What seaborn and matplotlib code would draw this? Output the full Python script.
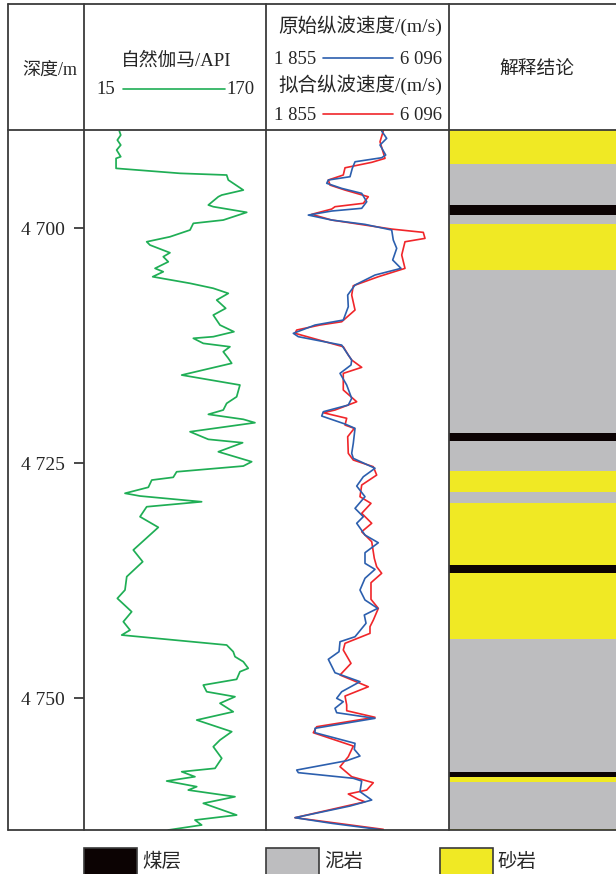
import matplotlib
matplotlib.use("Agg")
import matplotlib.pyplot as plt
from matplotlib.patches import Rectangle
import pandas as pd
import seaborn as sns

depth_top, depth_bottom = 4689.57, 4764.04
depth_ticks = [4700, 4725, 4750]
depth_tick_labels = ["4 700", "4 725", "4 750"]

gr_min, gr_max = 15, 170
vp_min, vp_max = 1855, 6096

gr_depth = [4689.68, 4690.11, 4690.64, 4691.17, 4691.70, 4692.41, 4692.59, 4693.65, 4694.18, 4694.36,
            4694.89, 4695.96, 4696.49, 4696.67, 4697.55, 4697.73, 4698.33, 4699.15, 4699.50, 4700.21,
            4700.93, 4701.46, 4701.81, 4702.63, 4703.05, 4703.59, 4704.29, 4704.65, 4705.18, 4705.88,
            4706.41, 4706.95, 4707.66, 4708.54, 4709.26, 4710.32, 4711.03, 4711.56, 4711.73, 4712.27,
            4712.63, 4713.16, 4713.86, 4714.39, 4715.64, 4716.70, 4717.95, 4718.65, 4719.36, 4719.82,
            4720.35, 4720.71, 4721.67, 4722.48, 4722.84, 4723.80, 4724.86, 4725.32, 4725.93, 4726.52,
            4726.81, 4727.58, 4728.22, 4728.51, 4729.12, 4729.65, 4730.71, 4731.84, 4734.25, 4735.50,
            4737.09, 4738.51, 4739.40, 4740.82, 4741.88, 4742.77, 4743.30, 4744.36, 4745.07, 4745.60,
            4746.14, 4746.84, 4747.20, 4748.01, 4748.62, 4749.33, 4749.86, 4750.56, 4751.46, 4752.34,
            4753.58, 4754.47, 4755.18, 4756.41, 4757.48, 4757.84, 4758.37, 4758.83, 4759.43, 4759.79,
            4760.50, 4761.20, 4762.45, 4762.98, 4763.51, 4764.04]
gr_api = [45.1, 46.3, 43.4, 46.3, 42.8, 46.3, 42.3, 42.3, 96.8, 136.5,
          137.9, 150.7, 132.3, 129.4, 120.9, 125.1, 153.6, 133.6, 108.1, 105.3,
          88.2, 68.4, 71.2, 88.2, 82.5, 86.8, 75.5, 82.5, 73.5, 105.3,
          125.1, 137.9, 128.0, 135.7, 125.1, 130.8, 142.7, 125.1, 108.1, 116.6,
          139.3, 133.6, 137.9, 140.8, 98.2, 147.8, 145.0, 136.5, 133.6, 120.9,
          150.7, 160.6, 105.3, 120.9, 150.1, 129.4, 157.8, 150.7, 93.9, 91.0,
          72.7, 69.8, 49.9, 62.7, 115.2, 68.4, 62.7, 78.3, 57.0, 65.0,
          51.4, 49.9, 43.4, 55.6, 48.5, 54.2, 47.1, 136.5, 142.1, 143.6,
          150.7, 154.9, 147.8, 145.0, 116.6, 119.5, 143.6, 130.8, 142.1, 111.0,
          140.8, 130.8, 125.1, 132.3, 126.6, 98.2, 109.5, 85.4, 111.0, 103.8,
          143.6, 116.6, 145.0, 109.5, 115.2, 86.8]

vp_orig_depth = [4689.68, 4690.46, 4691.17, 4692.23, 4692.52, 4692.95, 4693.65, 4694.54, 4694.89, 4695.24,
                 4695.78, 4696.31, 4697.20, 4697.90, 4698.19, 4698.62, 4699.15, 4699.61, 4700.21, 4701.28,
                 4702.16, 4703.40, 4704.29, 4705.00, 4706.06, 4707.13, 4708.37, 4709.79, 4710.32, 4711.20,
                 4711.56, 4712.45, 4713.51, 4714.04, 4714.57, 4715.46, 4716.70, 4718.12, 4718.83, 4719.54,
                 4720.00, 4720.85, 4721.31, 4722.90, 4723.97, 4724.50, 4725.56, 4726.46, 4727.45, 4728.58,
                 4729.82, 4730.71, 4731.41, 4732.66, 4733.48, 4734.54, 4735.67, 4736.31, 4737.26, 4738.51,
                 4739.57, 4740.46, 4741.17, 4742.05, 4743.48, 4744.01, 4745.07, 4745.88, 4747.31, 4748.26,
                 4749.33, 4750.03, 4750.39, 4751.09, 4751.56, 4752.16, 4753.22, 4753.69, 4754.82, 4755.46,
                 4756.17, 4756.67, 4757.66, 4757.94, 4758.54, 4758.83, 4759.96, 4760.85, 4761.49, 4762.73,
                 4763.33, 4764.04]
vp_orig = [4536, 4652, 4497, 4629, 4536, 3918, 3855, 3802, 3299, 3262,
           3609, 4073, 4189, 4073, 3378, 2835, 3378, 4149, 4768, 4805,
           4884, 4791, 4984, 4381, 3918, 3748, 3762, 3646, 2991, 2488,
           2604, 3609, 3762, 3841, 3825, 3570, 3725, 3841, 3762, 3183,
           3146, 3686, 3918, 3878, 3841, 3878, 4381, 4110, 3957, 4149,
           3918, 4110, 3957, 4149, 4458, 4149, 4149, 4381, 4149, 4033,
           4149, 4444, 4133, 4173, 3918, 3570, 3547, 3299, 3454, 4033,
           3609, 3493, 3646, 3454, 3493, 4381, 2991, 2991, 3918, 3901,
           4033, 3725, 2566, 2604, 3878, 4073, 4033, 4305, 3802, 2527,
           3378, 4573]

vp_fit_depth = [4689.68, 4690.82, 4692.59, 4693.01, 4693.59, 4694.36, 4694.89, 4695.43, 4695.96, 4696.67,
                4697.37, 4697.73, 4697.98, 4698.54, 4699.15, 4700.11, 4700.46, 4701.10, 4701.46, 4702.87,
                4704.29, 4705.18, 4706.14, 4707.13, 4708.72, 4709.97, 4710.32, 4710.85, 4711.20, 4712.63,
                4713.51, 4714.04, 4714.82, 4715.46, 4717.23, 4718.48, 4719.36, 4719.65, 4720.24, 4720.96,
                4721.31, 4722.20, 4723.97, 4724.68, 4725.39, 4726.28, 4727.34, 4728.58, 4729.29, 4730.35,
                4731.41, 4732.31, 4733.37, 4735.14, 4736.03, 4736.73, 4737.73, 4739.50, 4740.46, 4741.71,
                4742.41, 4743.12, 4744.18, 4744.89, 4746.31, 4747.55, 4748.80, 4749.79, 4750.74, 4751.35,
                4752.05, 4753.05, 4753.69, 4755.11, 4756.24, 4757.31, 4758.37, 4759.01, 4759.79, 4760.21,
                4760.78, 4761.04, 4762.73, 4763.97]
vp_fit = [4573, 4497, 4613, 4305, 3686, 3646, 3299, 3338, 3686, 4226,
          4110, 3454, 3378, 2914, 3378, 4768, 5500, 5540, 5076, 5000,
          5076, 4458, 3878, 3841, 3918, 3609, 3106, 2566, 2527, 3646,
          3762, 3841, 4073, 3646, 3646, 3957, 3454, 3183, 3725, 3686,
          3901, 3748, 3762, 3878, 4342, 4420, 4073, 4033, 4288, 4073,
          4305, 4073, 4305, 4365, 4420, 4536, 4288, 4288, 4458, 4342,
          4265, 4265, 3686, 3646, 3825, 3570, 4226, 3686, 3725, 3725,
          4381, 3030, 2951, 3878, 3762, 3570, 3841, 4342, 4189, 3762,
          3994, 4149, 2527, 4573]

litho_top = [4689.57, 4693.14, 4697.55, 4698.56, 4699.52, 4704.47, 4721.81, 4722.63, 4725.81,
             4728.06, 4729.26, 4735.85, 4736.70, 4743.72, 4757.87, 4758.40, 4758.94, 4763.94]
litho_base = [4693.14, 4697.55, 4698.56, 4699.52, 4704.47, 4721.81, 4722.63, 4725.81, 4728.06,
              4729.26, 4735.85, 4736.70, 4743.72, 4757.87, 4758.40, 4758.94, 4763.94, 4764.04]
litho_kind = ["砂岩", "泥岩", "煤层", "泥岩", "砂岩", "泥岩", "煤层", "泥岩", "砂岩",
              "泥岩", "砂岩", "煤层", "砂岩", "泥岩", "煤层", "砂岩", "泥岩", "砂岩"]
litho_names = ["煤层", "泥岩", "砂岩"]
litho_colors = {"煤层": "#0c0303", "泥岩": "#bdbdbf", "砂岩": "#f0e924"}

GREEN, BLUE, RED = "#1fae55", "#2c5fae", "#f0262a"
FRAME = "#3a3a3a"

sns.set_style("white")
plt.rcParams["font.family"] = ["Liberation Serif", "Noto Sans CJK SC", "DejaVu Sans"]

W, H = 616, 874
fig = plt.figure(figsize=(W / 100, H / 100), dpi=100)


def fig_rect(x0, y0, x1, y1):
    return [x0 / W, 1 - y1 / H, (x1 - x0) / W, (y1 - y0) / H]


TOP, BOT = 130, 830
ax_gr = fig.add_axes(fig_rect(84, TOP, 266, BOT))
ax_vp = fig.add_axes(fig_rect(266, TOP, 449, BOT), sharey=ax_gr)
ax_li = fig.add_axes(fig_rect(449, TOP, 616, BOT), sharey=ax_gr)

# gamma ray
gr_df = pd.DataFrame({"depth": gr_depth, "gr": gr_api})
sns.lineplot(data=gr_df, x="gr", y="depth", sort=False, estimator=None,
             color=GREEN, lw=1.25, ax=ax_gr)
ax_gr.set_xlim(gr_min, gr_max)

# velocities
orig_df = pd.DataFrame({"depth": vp_orig_depth, "vp": vp_orig})
fit_df = pd.DataFrame({"depth": vp_fit_depth, "vp": vp_fit})
sns.lineplot(data=fit_df, x="vp", y="depth", sort=False, estimator=None,
             color=RED, lw=1.2, ax=ax_vp)
sns.lineplot(data=orig_df, x="vp", y="depth", sort=False, estimator=None,
             color=BLUE, lw=1.2, ax=ax_vp)
ax_vp.set_xlim(vp_min, vp_max)

# lithology column
for top, base, kind in zip(litho_top, litho_base, litho_kind):
    ax_li.barh(top, 1, height=base - top, left=0, align="edge",
               color=litho_colors[kind], linewidth=0)
ax_li.set_xlim(0, 1)

ax_gr.set_ylim(depth_bottom, depth_top)
for ax in (ax_gr, ax_vp, ax_li):
    ax.set_xlabel("")
    ax.set_ylabel("")
    ax.set_xticks([])
    for s in ax.spines.values():
        s.set_visible(False)
    ax.set_facecolor("none")
ax_gr.set_yticks(depth_ticks)
ax_gr.set_yticklabels(depth_tick_labels, fontsize=14)
ax_gr.tick_params(axis="y", direction="out", length=7, width=1.3,
                  color=FRAME, pad=7, left=True)
ax_vp.tick_params(axis="y", left=False, labelleft=False)
ax_li.tick_params(axis="y", left=False, labelleft=False)

# frame, header and legend drawn in pixel space on an overlay axes
ov = fig.add_axes([0, 0, 1, 1], zorder=10)
ov.set_xlim(0, W)
ov.set_ylim(H, 0)
ov.axis("off")
lw = 1.3
for x in (8, 84, 266, 449):
    ov.plot([x, x], [4, BOT], color=FRAME, lw=lw)
for y in (4, TOP, BOT):
    ov.plot([8, W], [y, y], color=FRAME, lw=lw)

fs = 13.5
ov.text(50, 70, "深度/m", ha="center", va="center", fontsize=13)
ov.text(176, 61, "自然伽马/API", ha="center", va="center", fontsize=fs)
ov.text(106, 90, str(gr_min), ha="center", va="center", fontsize=fs)
ov.plot([123, 225], [89, 89], color=GREEN, lw=1.2)
ov.text(240, 90, str(gr_max), ha="center", va="center", fontsize=fs)

ov.text(360, 26, "原始纵波速度/(m/s)", ha="center", va="center", fontsize=14)
ov.text(295, 59, "1 855", ha="center", va="center", fontsize=fs)
ov.plot([323, 393], [58, 58], color=BLUE, lw=1.2)
ov.text(421, 59, "6 096", ha="center", va="center", fontsize=fs)
ov.text(360, 85, "拟合纵波速度/(m/s)", ha="center", va="center", fontsize=14)
ov.text(295, 115, "1 855", ha="center", va="center", fontsize=fs)
ov.plot([323, 393], [114, 114], color=RED, lw=1.2)
ov.text(421, 115, "6 096", ha="center", va="center", fontsize=fs)
ov.text(537, 70, "解释结论", ha="center", va="center", fontsize=fs)

for x0, name in zip((84, 266, 440), litho_names):
    ov.add_patch(Rectangle((x0, 848), 53, 30, facecolor=litho_colors[name],
                           edgecolor=FRAME, lw=1.2, clip_on=False))
    ov.text(x0 + 58, 862, name, ha="left", va="center", fontsize=14)

fig.savefig("out.png", dpi=100)
